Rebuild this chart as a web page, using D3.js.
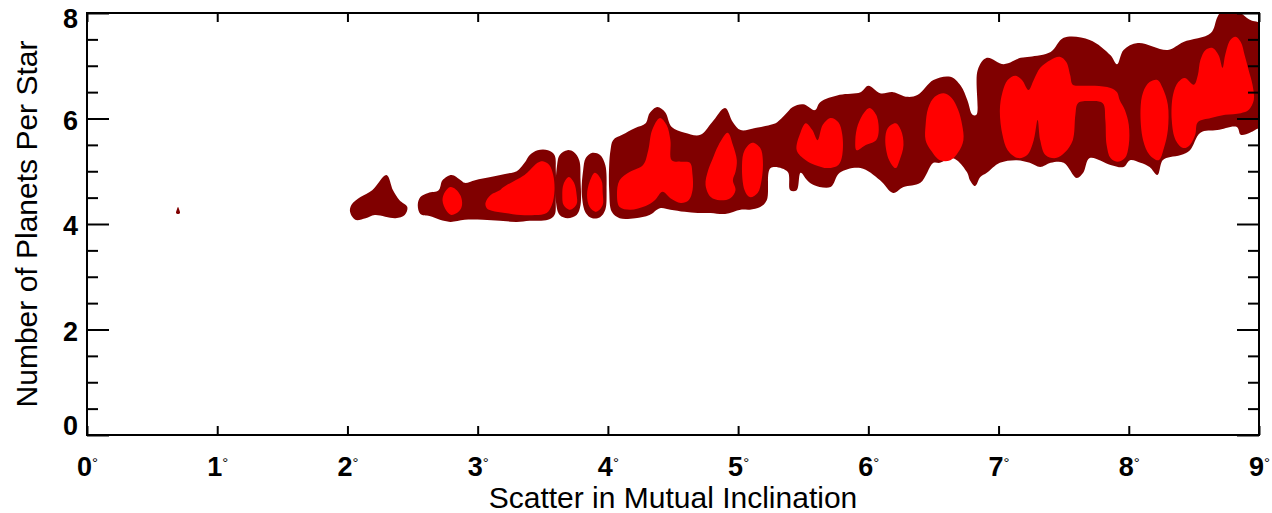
<!DOCTYPE html>
<html>
<head>
<meta charset="utf-8">
<script src="https://cdn.jsdelivr.net/npm/d3@7"></script>
<style>
body { margin: 0; background: #fff; }
text { font-family: "Liberation Sans", Arial, Helvetica, sans-serif; }
</style>
</head>
<body>
<div id="chart"></div>
<script>
// contour outlines: [scatter in mutual inclination (deg), planets per star]
// outer (lower) density level
var dotBlob = [[0.684,4.21],[0.691,4.28],[0.699,4.32],[0.707,4.28],[0.714,4.21],[0.699,4.19]];
var blobA = [[2.03,4.36],[2.10,4.51],[2.19,4.64],[2.30,4.93],[2.35,4.64],[2.40,4.45],[2.46,4.32],[2.44,4.17],[2.37,4.11],[2.21,4.17],[2.14,4.11],[2.06,4.08],[2.02,4.23]];
var blobB = [[2.54,4.36],[2.56,4.51],[2.62,4.59],[2.70,4.64],[2.73,4.83],[2.80,4.93],[2.87,4.83],[2.90,4.78],[2.98,4.83],[3.10,4.89],[3.21,4.95],[3.30,5.00],[3.36,5.16],[3.40,5.31],[3.46,5.40],[3.54,5.40],[3.59,5.31],[3.60,5.02],[3.60,4.45],[3.59,4.17],[3.54,4.08],[3.40,4.06],[3.30,4.04],[3.17,4.06],[3.04,4.08],[2.90,4.08],[2.79,4.04],[2.71,4.08],[2.63,4.15],[2.56,4.19]];
var blobC = [[3.61,5.12],[3.63,5.31],[3.69,5.40],[3.74,5.36],[3.78,5.21],[3.79,4.83],[3.79,4.36],[3.76,4.17],[3.69,4.11],[3.63,4.17],[3.60,4.45]];
var blobD = [[3.81,5.02],[3.83,5.25],[3.88,5.35],[3.94,5.31],[3.98,5.12],[3.99,4.64],[3.98,4.27],[3.94,4.13],[3.88,4.11],[3.83,4.21],[3.80,4.55]];
var blobE = [[4.02,5.40],[4.04,5.59],[4.11,5.69],[4.21,5.82],[4.29,5.91],[4.32,6.10],[4.38,6.22],[4.44,6.12],[4.49,5.84],[4.59,5.73],[4.71,5.69],[4.80,5.93],[4.90,6.20],[4.96,5.93],[5.02,5.78],[5.13,5.82],[5.25,5.88],[5.30,5.93],[5.36,6.07],[5.42,6.22],[5.50,6.27],[5.59,6.16],[5.63,6.31],[5.78,6.45],[5.94,6.50],[6.00,6.62],[6.09,6.48],[6.19,6.50],[6.30,6.41],[6.38,6.45],[6.50,6.73],[6.63,6.79],[6.71,6.62],[6.76,6.35],[6.80,6.07],[6.83,6.07],[6.84,6.92],[6.91,7.15],[7.04,7.03],[7.17,7.15],[7.24,7.17],[7.40,7.26],[7.50,7.53],[7.70,7.49],[7.86,7.20],[7.91,7.03],[7.96,7.30],[8.07,7.43],[8.30,7.30],[8.42,7.45],[8.63,7.62],[8.68,7.92],[8.72,8.05],[8.82,8.05],[8.93,7.87],[9.02,7.77],[9.02,5.88],[8.97,5.78],[8.93,5.73],[8.86,5.69],[8.83,5.84],[8.68,5.78],[8.55,5.73],[8.47,5.40],[8.40,5.31],[8.32,5.27],[8.26,5.21],[8.22,4.93],[8.16,5.08],[8.09,5.16],[8.01,5.21],[7.96,5.08],[7.86,5.12],[7.70,5.25],[7.65,4.97],[7.60,4.87],[7.50,5.16],[7.40,5.16],[7.32,5.08],[7.24,5.16],[7.14,5.21],[7.01,5.16],[6.91,4.97],[6.86,4.89],[6.82,4.72],[6.78,4.83],[6.76,4.97],[6.68,5.21],[6.63,5.25],[6.55,5.16],[6.50,5.16],[6.40,4.78],[6.27,4.70],[6.19,4.59],[6.09,4.83],[5.94,5.06],[5.78,4.97],[5.71,4.70],[5.58,4.74],[5.53,4.83],[5.48,4.97],[5.45,4.64],[5.40,4.64],[5.38,4.99],[5.25,5.06],[5.22,4.45],[5.17,4.32],[5.09,4.27],[5.02,4.27],[4.90,4.19],[4.79,4.21],[4.69,4.21],[4.59,4.23],[4.48,4.27],[4.40,4.30],[4.32,4.17],[4.21,4.11],[4.09,4.11],[4.03,4.23],[4.01,4.64],[4.01,5.12]];

// inner (higher) density level
var innerB1 = [[2.73,4.45],[2.75,4.61],[2.79,4.70],[2.83,4.66],[2.87,4.53],[2.88,4.36],[2.86,4.25],[2.80,4.17],[2.76,4.25]];
var innerB2 = [[3.06,4.40],[3.10,4.55],[3.17,4.64],[3.20,4.70],[3.29,4.83],[3.36,4.93],[3.40,5.02],[3.46,5.16],[3.50,5.19],[3.55,5.12],[3.58,4.93],[3.59,4.64],[3.57,4.36],[3.53,4.21],[3.44,4.17],[3.33,4.17],[3.21,4.21],[3.11,4.25],[3.07,4.30]];
var innerC = [[3.65,4.55],[3.66,4.76],[3.70,4.89],[3.74,4.78],[3.76,4.55],[3.76,4.38],[3.71,4.27],[3.66,4.36]];
var innerD = [[3.84,4.55],[3.86,4.80],[3.90,4.97],[3.95,4.83],[3.96,4.59],[3.96,4.36],[3.91,4.23],[3.86,4.32]];
var innerE1 = [[4.09,4.83],[4.17,4.99],[4.27,5.12],[4.31,5.40],[4.34,5.78],[4.40,6.01],[4.45,5.88],[4.48,5.59],[4.49,5.21],[4.56,5.18],[4.63,5.16],[4.65,4.93],[4.65,4.64],[4.62,4.45],[4.56,4.40],[4.48,4.49],[4.42,4.61],[4.36,4.45],[4.29,4.34],[4.17,4.27],[4.09,4.32],[4.07,4.55]];
var innerE2 = [[4.77,5.02],[4.80,5.21],[4.85,5.50],[4.92,5.73],[4.96,5.50],[4.99,5.21],[4.98,4.99],[4.96,4.83],[4.98,4.64],[4.94,4.49],[4.86,4.45],[4.79,4.51],[4.75,4.74]];
var innerE3 = [[5.03,5.12],[5.05,5.40],[5.11,5.54],[5.17,5.44],[5.19,5.21],[5.18,4.83],[5.15,4.59],[5.09,4.51],[5.05,4.64]];
var innerE4 = [[5.45,5.40],[5.48,5.74],[5.52,5.91],[5.57,5.78],[5.61,5.59],[5.65,5.88],[5.71,6.01],[5.77,5.93],[5.80,5.69],[5.80,5.31],[5.77,5.12],[5.69,5.06],[5.59,5.12],[5.52,5.21]];
var innerE5 = [[5.90,5.59],[5.92,5.88],[5.97,6.12],[6.01,6.20],[6.06,6.07],[6.08,5.78],[6.06,5.59],[5.98,5.50],[5.91,5.40]];
var innerE6 = [[6.13,5.59],[6.15,5.82],[6.21,5.91],[6.25,5.78],[6.27,5.50],[6.24,5.21],[6.21,5.06],[6.16,5.21]];
var innerE7 = [[6.44,5.88],[6.46,6.20],[6.51,6.41],[6.58,6.48],[6.64,6.39],[6.69,6.16],[6.72,5.88],[6.73,5.59],[6.69,5.36],[6.63,5.21],[6.55,5.21],[6.48,5.40],[6.44,5.59]];
var innerE8 = [[7.01,6.16],[7.03,6.50],[7.07,6.73],[7.13,6.81],[7.18,6.73],[7.23,6.54],[7.27,6.73],[7.32,6.96],[7.40,7.11],[7.47,7.17],[7.52,7.07],[7.55,6.82],[7.57,6.64],[7.63,6.62],[7.74,6.62],[7.86,6.58],[7.91,6.50],[7.93,6.35],[7.97,6.16],[8.00,5.88],[8.00,5.50],[7.97,5.25],[7.91,5.18],[7.86,5.25],[7.83,5.50],[7.82,5.97],[7.80,6.29],[7.70,6.33],[7.61,6.29],[7.59,6.07],[7.57,5.59],[7.51,5.36],[7.44,5.25],[7.36,5.31],[7.32,5.59],[7.30,5.97],[7.27,5.59],[7.22,5.31],[7.15,5.25],[7.07,5.40],[7.03,5.69]];
var innerE9 = [[8.09,6.16],[8.11,6.50],[8.16,6.69],[8.22,6.73],[8.26,6.58],[8.30,6.26],[8.30,5.78],[8.27,5.44],[8.23,5.21],[8.16,5.31],[8.11,5.59]];
var innerE10 = [[8.33,5.97],[8.34,6.45],[8.38,6.69],[8.43,6.77],[8.50,6.64],[8.53,6.82],[8.55,7.11],[8.59,7.30],[8.64,7.34],[8.69,7.20],[8.72,6.96],[8.74,7.20],[8.78,7.49],[8.82,7.55],[8.86,7.45],[8.89,7.20],[8.92,6.92],[8.95,6.64],[8.96,6.35],[8.92,6.16],[8.86,6.10],[8.74,6.07],[8.63,6.01],[8.53,5.93],[8.51,5.69],[8.47,5.50],[8.42,5.44],[8.36,5.59]];

var outerContours = [dotBlob, blobA, blobB, blobC, blobD, blobE];
var innerContours = [innerB1, innerB2, innerC, innerD, innerE1, innerE2, innerE3, innerE4, innerE5, innerE6, innerE7, innerE8, innerE9, innerE10];

var xTicks = [0, 1, 2, 3, 4, 5, 6, 7, 8, 9];
var yTicks = [0, 2, 4, 6, 8];
var yMinorTicks = [0.5, 1, 1.5, 2.5, 3, 3.5, 4.5, 5, 5.5, 6.5, 7, 7.5];

var margin = { top: 13, right: 13, bottom: 78, left: 87 },
    width = 1272 - margin.left - margin.right,
    height = 513 - margin.top - margin.bottom;

var x = d3.scaleLinear().domain([0, 9]).range([0, width]);
var y = d3.scaleLinear().domain([0, 8]).range([height, 0]);

var svg = d3.select("#chart").append("svg")
    .attr("width", width + margin.left + margin.right)
    .attr("height", height + margin.top + margin.bottom);

var defs = svg.append("defs");
defs.append("clipPath").attr("id", "plotclip")
    .append("rect").attr("width", width).attr("height", height);
defs.append("filter").attr("id", "soft")
    .append("feGaussianBlur").attr("stdDeviation", 0.7);

var g = svg.append("g")
    .attr("transform", "translate(" + margin.left + "," + margin.top + ")");

var contour = d3.line()
    .x(function (d) { return x(d[0]); })
    .y(function (d) { return y(d[1]); })
    .curve(d3.curveCatmullRomClosed.alpha(0.5));

var marks = g.append("g")
    .attr("clip-path", "url(#plotclip)")
    .append("g")
    .attr("filter", "url(#soft)");

marks.selectAll(".outer")
    .data(outerContours)
    .enter().append("path")
    .attr("class", "outer")
    .attr("d", contour)
    .attr("fill", "#800000");

marks.selectAll(".inner")
    .data(innerContours)
    .enter().append("path")
    .attr("class", "inner")
    .attr("d", contour)
    .attr("fill", "#ff0000");

// axes: ticks point inward on all four sides
function styleAxis(sel) {
    sel.select(".domain").remove();
    sel.selectAll(".tick line").attr("stroke", "#000").attr("stroke-width", 2);
    sel.attr("font-family", null).attr("font-size", null);
}

var bottom = g.append("g")
    .attr("transform", "translate(0," + height + ")")
    .call(d3.axisBottom(x).tickValues(xTicks).tickSizeInner(-9).tickSizeOuter(0)
        .tickPadding(22).tickFormat(function () { return ""; }))
    .call(styleAxis);

bottom.selectAll(".tick text")
    .attr("fill", "#000")
    .style("font-size", "27px")
    .style("font-weight", "bold")
    .each(function (d) {
        var t = d3.select(this);
        t.append("tspan").text(d);
        t.append("tspan").attr("dy", "-8px").style("font-size", "15px")
            .style("font-weight", "normal").text("°");
    });

g.append("g")
    .call(d3.axisTop(x).tickValues(xTicks).tickSizeInner(-9).tickSizeOuter(0)
        .tickFormat(""))
    .call(styleAxis);

var left = g.append("g")
    .call(d3.axisLeft(y).tickValues(yTicks).tickSizeInner(-22).tickSizeOuter(0)
        .tickPadding(9).tickFormat(d3.format("d")))
    .call(styleAxis);

left.selectAll(".tick text")
    .attr("fill", "#000")
    .attr("y", function (d) { return d === 0 ? -9 : d === 8 ? 6 : 2; })
    .style("font-size", "27px")
    .style("font-weight", "bold");

g.append("g")
    .call(d3.axisLeft(y).tickValues(yMinorTicks).tickSizeInner(-11).tickSizeOuter(0)
        .tickFormat(""))
    .call(styleAxis);

g.append("g")
    .attr("transform", "translate(" + width + ",0)")
    .call(d3.axisRight(y).tickValues(yTicks).tickSizeInner(-22).tickSizeOuter(0)
        .tickFormat(""))
    .call(styleAxis);

g.append("g")
    .attr("transform", "translate(" + width + ",0)")
    .call(d3.axisRight(y).tickValues(yMinorTicks).tickSizeInner(-11).tickSizeOuter(0)
        .tickFormat(""))
    .call(styleAxis);

// frame
g.append("rect")
    .attr("width", width)
    .attr("height", height)
    .attr("fill", "none")
    .attr("stroke", "#000")
    .attr("stroke-width", 2);

// axis titles
g.append("text")
    .attr("x", width / 2)
    .attr("y", height + 73)
    .attr("text-anchor", "middle")
    .style("font-size", "30px")
    .text("Scatter in Mutual Inclination");

g.append("text")
    .attr("transform", "rotate(-90)")
    .attr("x", -(224 - margin.top))
    .attr("y", 37 - margin.left)
    .attr("text-anchor", "middle")
    .style("font-size", "30px")
    .text("Number of Planets Per Star");
</script>
</body>
</html>
